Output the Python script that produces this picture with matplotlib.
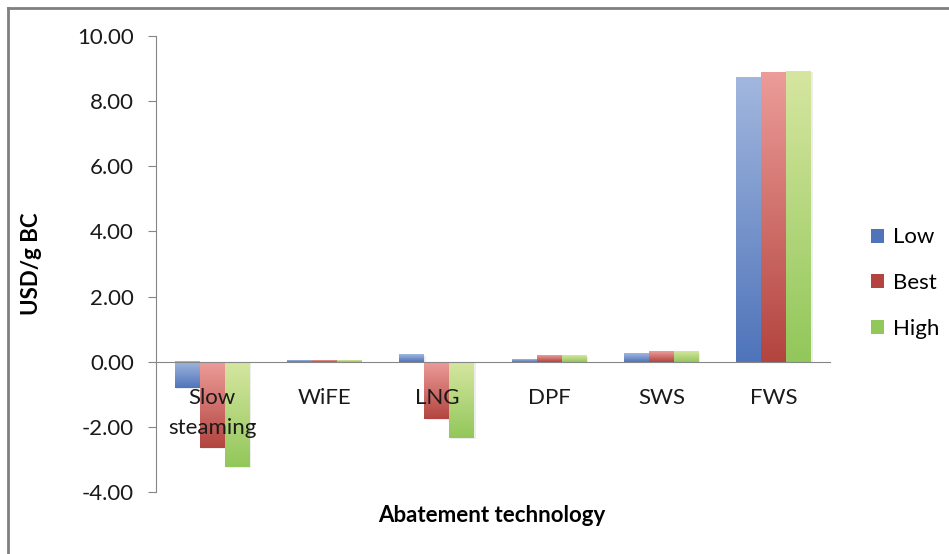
import numpy as np
import matplotlib
matplotlib.use("Agg")
import matplotlib.pyplot as plt
from matplotlib.colors import LinearSegmentedColormap
from matplotlib.lines import Line2D
from matplotlib.patches import Rectangle

categories = ["Slow\nsteaming", "WiFE", "LNG", "DPF", "SWS", "FWS"]
low = [-0.80, 0.05, 0.22, 0.08, 0.25, 8.75]
best = [-2.64, 0.05, -1.75, 0.19, 0.31, 8.89]
high = [-3.22, 0.05, -2.33, 0.19, 0.31, 8.93]
series_names = ["Low", "Best", "High"]
yticks = [-4, -2, 0, 2, 4, 6, 8, 10]

plt.rcParams['font.family'] = ['Lato', 'DejaVu Sans']
FS = 16

W, H = 949, 554
fig = plt.figure(figsize=(W / 100, H / 100), dpi=100)
ax = fig.add_axes([156 / W, 1 - 492 / H, (830 - 156) / W, (492 - 36) / H])

grads = [("#A2B7DE", "#4F74BA"), ("#EC9C99", "#B3443F"), ("#D6E6A0", "#92C75A")]
data = [low, best, high]
n = len(categories)
x = np.arange(n)
bw = 0.222

for s, vals in enumerate(data):
    cmap = LinearSegmentedColormap.from_list("g%d" % s, [grads[s][1], grads[s][0]])
    for i, v in enumerate(vals):
        x0 = x[i] + (s - 1) * bw - bw / 2
        y0, y1 = min(0, v), max(0, v)
        ax.add_patch(Rectangle((x0 + 0.012, y0 - 0.05), bw, y1 - y0,
                               facecolor="#000000", alpha=0.07, edgecolor="none", zorder=1))
        grad = np.linspace(0, 1, 256).reshape(-1, 1)
        ax.imshow(grad, cmap=cmap, origin="lower", aspect="auto",
                  extent=(x0, x0 + bw, y0, y1), zorder=2, interpolation="bilinear")

ax.set_xlim(-0.5, n - 0.5)
ax.set_ylim(-4, 10)

ax.spines['top'].set_visible(False)
ax.spines['right'].set_visible(False)
ax.spines['bottom'].set_position(('data', 0))
ax.spines['bottom'].set_color("#868686")
ax.spines['left'].set_color("#868686")
ax.spines['bottom'].set_zorder(3)

ax.set_xticks(x)
ax.set_xticklabels(categories, fontsize=FS, color="#1a1a1a", linespacing=1.6)
ax.tick_params(axis='x', length=0, pad=19)
ax.xaxis.set_zorder(6)
ax.set_yticks(yticks)
ax.set_yticklabels(["%.2f" % t for t in yticks], fontsize=FS, color="#1a1a1a")
ax.tick_params(axis='y', length=6, color="#868686", pad=10)

ax.set_ylabel("USD/g BC", fontsize=FS, fontweight="bold", labelpad=10)
ax.yaxis.set_label_coords(-(156 - 42) / (830 - 156), 0.5)
fig.text(492 / W, 1 - 515 / H, "Abatement technology", fontsize=FS,
         fontweight="bold", ha="center", va="center")

handles = [Rectangle((0, 0), 1, 1, facecolor=grads[s][1]) for s in range(3)]
fig.legend(handles, series_names, loc="center left", bbox_to_anchor=(860 / W, 1 - 283 / H),
           frameon=False, fontsize=FS, handlelength=0.6, handleheight=0.6,
           labelspacing=1.15, handletextpad=0.4, borderpad=0)

fig.add_artist(Line2D([8 / W, 1], [1 - 8 / H, 1 - 8 / H], color="#808080", lw=2,
                      transform=fig.transFigure))
fig.add_artist(Line2D([8 / W, 8 / W], [0, 1 - 8 / H], color="#808080", lw=2,
                      transform=fig.transFigure))

fig.savefig("out.png", dpi=100)
